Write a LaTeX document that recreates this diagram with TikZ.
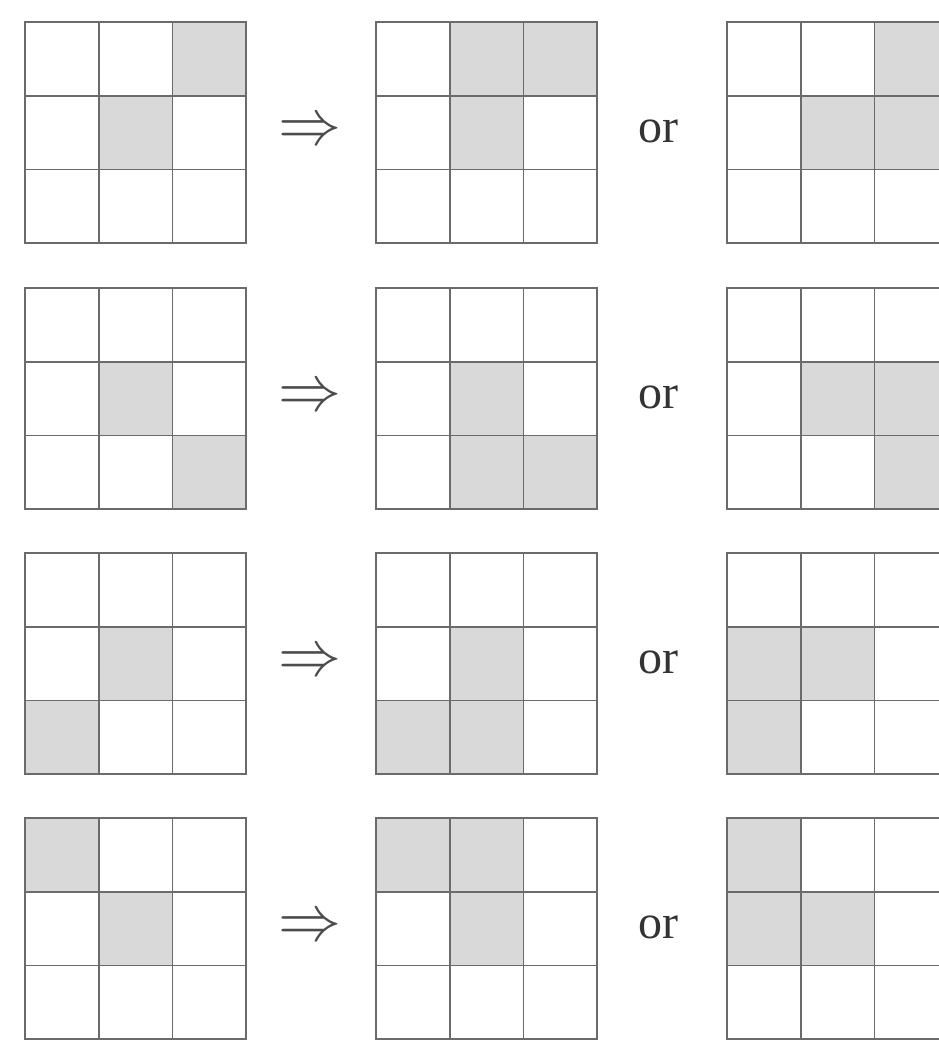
\documentclass[tikz,border=0pt]{standalone}
\usepackage{fontspec}
\newfontfamily\orfont{Liberation Serif}
\newcommand{\cellgrid}[3]{%
  \foreach \r/\c in {#3} {\fill[cellshade] ({#1+(\c-1)*73.7},{#2+(\r-1)*73.7}) rectangle ++(73.7,73.7);}
  \foreach \k in {1,2} {
    \draw[gridline] ({#1+\k*73.7},#2) -- ++(0,221.1);
    \draw[gridline] (#1,{#2+\k*73.7}) -- ++(221.1,0);
  }
  \draw[gridline] (#1,#2) rectangle ++(221.1,221.1);
}
\begin{document}
\begin{tikzpicture}[x=1pt,y=-1pt,
  gridline/.style={draw=black!58, line width=1.8pt},
  cellshade/.style={fill=black!15},
  arrowtext/.style={text=black!70, inner sep=0pt},
  ortext/.style={font=\orfont\fontsize{48}{56}\selectfont, text=black!80, inner sep=0pt}]
\useasboundingbox (0,0) rectangle (939,1045);
\clip (0,0) rectangle (939,1045);
\fill[white] (0,0) rectangle (939,1045);
% row 1
\cellgrid{25}{22}{1/3,2/2}
\cellgrid{376}{22}{1/2,1/3,2/2}
\cellgrid{727}{22}{1/3,2/2,2/3}
\node[arrowtext] (a1) at (310,133) {\scalebox{6.3}[6.5]{$\Rightarrow$}};
\node[ortext] (o1) at (658,131) {or};
% row 2
\cellgrid{25}{288}{2/2,3/3}
\cellgrid{376}{288}{2/2,3/2,3/3}
\cellgrid{727}{288}{2/2,2/3,3/3}
\node[arrowtext] (a2) at (310,399) {\scalebox{6.3}[6.5]{$\Rightarrow$}};
\node[ortext] (o2) at (658,397) {or};
% row 3
\cellgrid{25}{553}{2/2,3/1}
\cellgrid{376}{553}{2/2,3/1,3/2}
\cellgrid{727}{553}{2/1,2/2,3/1}
\node[arrowtext] (a3) at (310,664) {\scalebox{6.3}[6.5]{$\Rightarrow$}};
\node[ortext] (o3) at (658,662) {or};
% row 4
\cellgrid{25}{818}{1/1,2/2}
\cellgrid{376}{818}{1/1,1/2,2/2}
\cellgrid{727}{818}{1/1,2/1,2/2}
\node[arrowtext] (a4) at (310,929) {\scalebox{6.3}[6.5]{$\Rightarrow$}};
\node[ortext] (o4) at (658,927) {or};
\end{tikzpicture}
\end{document}
